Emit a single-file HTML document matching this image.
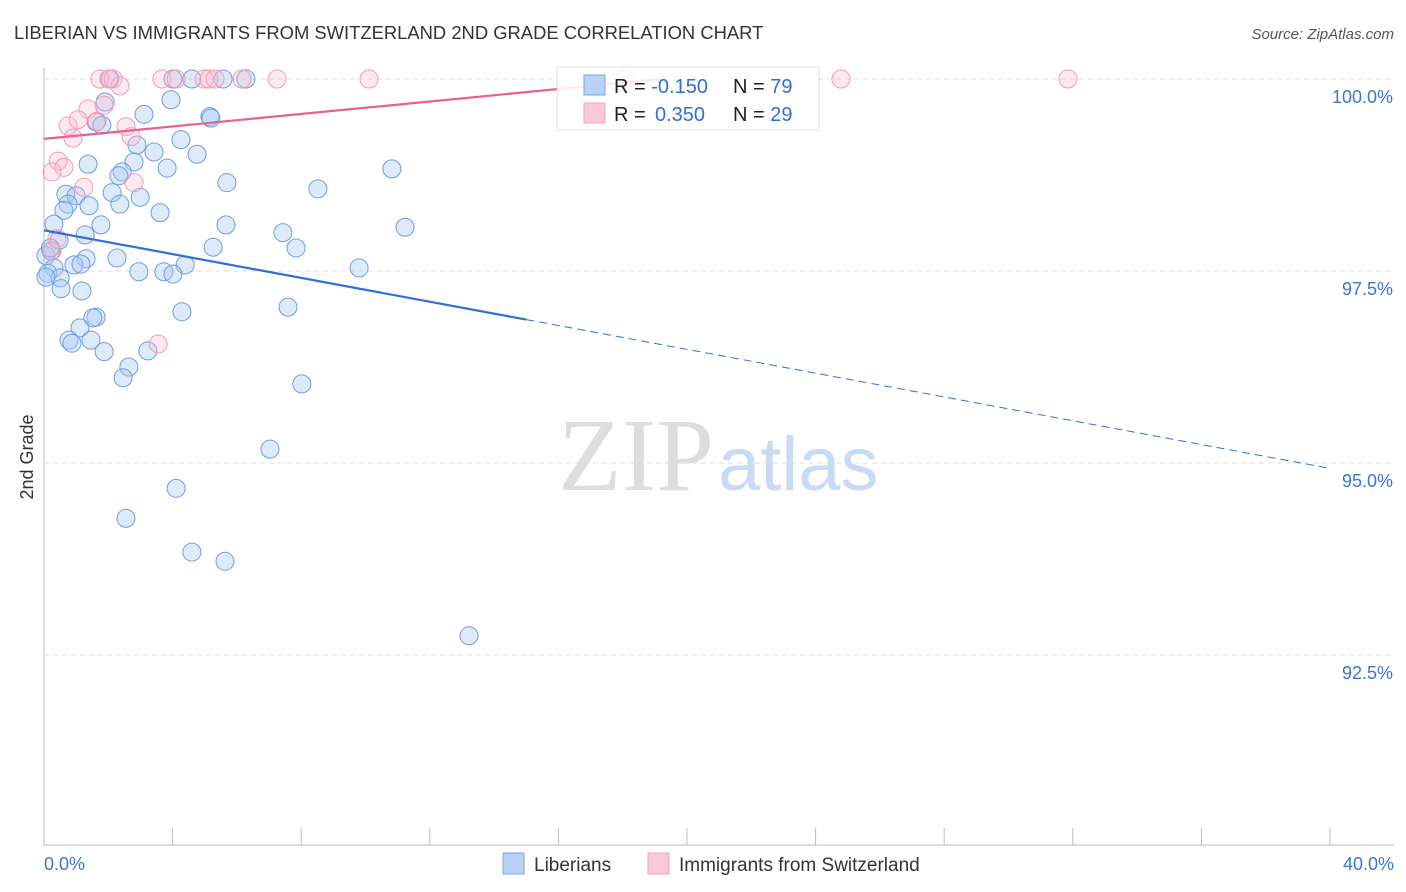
<!DOCTYPE html>
<html><head><meta charset="utf-8"><style>
body{margin:0;background:#fff;font-family:"Liberation Sans",sans-serif}
svg{display:block}
</style></head><body>
<svg id="c" width="1406" height="892" font-family="Liberation Sans, sans-serif">
<text x="14" y="39" font-size="18.4" fill="#333">LIBERIAN VS IMMIGRANTS FROM SWITZERLAND 2ND GRADE CORRELATION CHART</text>
<text x="1394" y="39" font-size="15" fill="#555" font-style="italic" text-anchor="end">Source: ZipAtlas.com</text>
<text x="33" y="457" font-size="18" fill="#333" transform="rotate(-90 33 457)" text-anchor="middle">2nd Grade</text>
<g id="grid"></g>
<text x="714" y="490" font-size="104" fill="#ddd" text-anchor="end" font-family="Liberation Serif, serif">ZIP</text>
<text x="718" y="490" font-size="76" fill="#c9daf3">atlas</text>
<g id="pts"></g>
<g id="lines"></g>
<g>
<rect x="557" y="67" width="262" height="63" fill="rgba(255,255,255,0.85)" stroke="#ddd"/>
<rect x="584" y="75" width="21" height="20" fill="#b9d1f4" stroke="#7aa6e6"/>
<rect x="584" y="103" width="21" height="20" fill="#fbc9d7" stroke="#f4a3bb"/>
<text x="614" y="93" font-size="20" fill="#222">R = <tspan fill="#2f6fd6">-0.150</tspan></text>
<text x="733" y="93" font-size="20" fill="#222">N = <tspan fill="#2f6fd6">79</tspan></text>
<text x="614" y="121" font-size="20" fill="#222">R = <tspan fill="#2f6fd6" x="655">0.350</tspan></text>
<text x="733" y="121" font-size="20" fill="#222">N = <tspan fill="#2f6fd6">29</tspan></text>
</g>
<g>
<rect x="503" y="853" width="21" height="21" fill="#b9d1f4" stroke="#7aa6e6"/>
<text x="534" y="871" font-size="19" fill="#333">Liberians</text>
<rect x="648" y="853" width="21" height="21" fill="#fbc9d7" stroke="#f4a3bb"/>
<text x="679" y="871" font-size="19" fill="#333">Immigrants from Switzerland</text>
</g>
<text x="44" y="870" font-size="18" fill="#3b76d4">0.0%</text>
<text x="1394" y="870" font-size="18" fill="#3b76d4" text-anchor="end">40.0%</text>
</svg>
<script>
const blueX=[2.05,4.01,4.60,5.57,6.28,1.90,3.95,3.11,5.16,5.19,1.62,1.80,4.26,2.89,3.42,4.76,1.37,2.80,3.83,10.82,2.43,2.33,5.69,8.52,0.68,2.12,2.99,1.00,0.75,1.40,2.36,0.62,3.61,0.31,1.77,5.66,11.23,1.28,7.43,0.47,7.84,5.26,0.22,0.06,2.27,1.31,0.93,1.15,4.39,0.31,0.12,2.95,3.73,4.01,9.80,0.50,0.06,0.53,1.18,4.29,7.59,1.62,1.52,1.12,0.78,0.87,1.46,1.87,3.23,2.64,2.46,8.02,7.03,4.11,2.55,4.60,5.63,13.22,0.2];
const blueY=[100,100,100,100,100,99.70,99.73,99.54,99.51,99.49,99.44,99.40,99.21,99.14,99.05,99.02,98.89,98.92,98.84,98.83,98.79,98.74,98.65,98.57,98.50,98.52,98.46,98.48,98.37,98.35,98.37,98.29,98.26,98.11,98.10,98.10,98.07,97.97,98.0,97.90,97.80,97.81,97.76,97.70,97.67,97.66,97.58,97.59,97.58,97.54,97.47,97.49,97.49,97.46,97.54,97.41,97.42,97.27,97.24,96.97,97.03,96.90,96.89,96.76,96.60,96.56,96.60,96.45,96.46,96.25,96.11,96.03,95.18,94.67,94.28,93.84,93.72,92.75,97.8];
const pinkX=[1.74,2.15,3.67,4.11,4.98,5.13,5.32,6.16,7.25,10.11,18.07,24.79,31.85,2.36,2.02,1.37,1.87,1.65,0.75,1.06,2.55,0.90,2.71,0.44,0.62,0.25,1.24,2.80,0.40,0.25,3.55];
const pinkY=[100,100,100,100,100,100,100,100,100,100,100,100,100,99.91,100,99.61,99.66,99.45,99.39,99.47,99.38,99.23,99.25,98.93,98.85,98.79,98.59,98.65,97.92,97.76,96.55];
const yTicks=[100,97.5,95,92.5];
const yTickLabels=["100.0%","97.5%","95.0%","92.5%"];
const xTicks=[0,4,8,12,16,20,24,28,32,36,40];
const blueTrend=[98.03,-0.0775];
const pinkTrend=[99.22,0.0406];
const NS="http://www.w3.org/2000/svg";
const sx=v=>44+v*32.15, sy=v=>79+(100-v)*76.8;
function mk(tag,attrs,parent){const e=document.createElementNS(NS,tag);for(const k in attrs)e.setAttribute(k,attrs[k]);parent.appendChild(e);return e;}
const grid=document.getElementById('grid');
let e=mk('line',{x1:44,y1:68,x2:44,y2:845,stroke:'#bbb'},grid);


e=mk('line',{x1:44,y1:845,x2:1394,y2:845,stroke:'#bbb'},grid);


yTicks.forEach((t,i)=>{
 const g=mk('line',{x1:44,y1:sy(t),x2:1394,y2:sy(t),stroke:'#ddd','stroke-dasharray':'5,4'},grid);
 
 
 const l=mk('text',{x:1393,y:sy(t)+24,'font-size':18,fill:'#3b76d4','text-anchor':'end'},grid);
 l.textContent=yTickLabels[i];
 
 
});
xTicks.forEach(t=>{
 const k=mk('line',{x1:sx(t),y1:828,x2:sx(t),y2:845,stroke:'#bbb'},grid);
 
 
});
const pts=document.getElementById('pts');
blueX.forEach((x,i)=>{
 const c=mk('circle',{cx:sx(x),cy:sy(blueY[i]),r:9,fill:'rgba(170,202,242,0.4)',stroke:'#6f9de0','stroke-width':1},pts);
 
 
});
pinkX.forEach((x,i)=>{
 const c=mk('circle',{cx:sx(x),cy:sy(pinkY[i]),r:9,fill:'rgba(248,185,205,0.3)',stroke:'#f29bb6','stroke-width':1},pts);
 
 
});
const lines=document.getElementById('lines');
const bt=x=>blueTrend[0]+blueTrend[1]*x, pt=x=>pinkTrend[0]+pinkTrend[1]*x;
e=mk('line',{x1:sx(0),y1:sy(bt(0)),x2:sx(15),y2:sy(bt(15)),stroke:'#2f6fd6','stroke-width':2.2},lines);


e=mk('line',{x1:sx(15),y1:sy(bt(15)),x2:sx(40),y2:sy(bt(40)),stroke:'#2f6fd6','stroke-width':1,'stroke-dasharray':'8,5'},lines);


e=mk('line',{x1:sx(0),y1:sy(pt(0)),x2:sx(19.2),y2:sy(pt(19.2)),stroke:'#e8608c','stroke-width':2.2},lines);


</script>
</body></html>
